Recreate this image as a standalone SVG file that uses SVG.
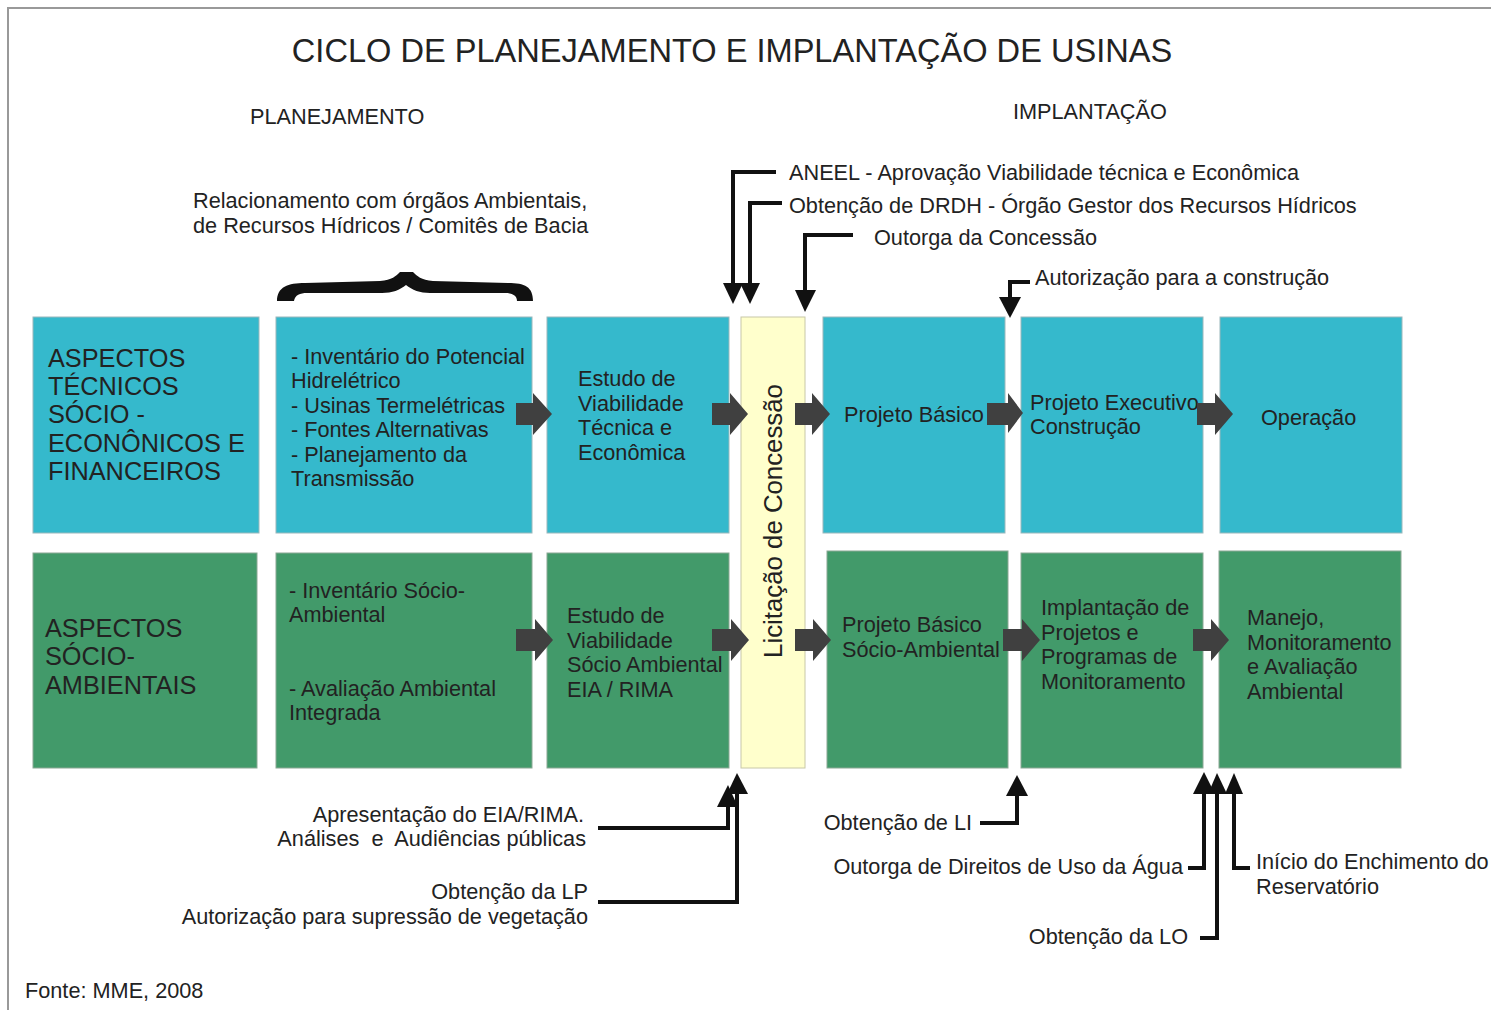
<svg xmlns="http://www.w3.org/2000/svg" width="1491" height="1010" viewBox="0 0 1491 1010">
<defs>
<style>
text{font-family:"Liberation Sans",Arial,sans-serif;fill:#222}
.t20{font-size:21.7px}
.t25{font-size:25.3px}
.cy{fill:#35b9cc;stroke:#9ab8bc;stroke-width:1}
.gr{fill:#429a6a;stroke:#8aa894;stroke-width:1}
.ln{fill:none;stroke:#111;stroke-width:4}
.ah{fill:#111}
.ba{fill:#404040}
.r{text-anchor:end}
</style>
</defs>
<rect width="1491" height="1010" fill="#fff"/>
<path d="M8,1010 V8 H1491" fill="none" stroke="#999" stroke-width="2"/>

<text x="732" y="62" text-anchor="middle" style="font-size:32.6px">CICLO DE PLANEJAMENTO E IMPLANTAÇÃO DE USINAS</text>
<text x="250" y="124" class="t20">PLANEJAMENTO</text>
<text x="1013" y="119" class="t20">IMPLANTAÇÃO</text>
<text x="193" y="208" class="t20">Relacionamento com órgãos Ambientais,</text>
<text x="193" y="233" class="t20">de Recursos Hídricos / Comitês de Bacia</text>
<path d="M277,301 C277,287 288,283 305,283 L380,281 C392,280 396,276 400,272 L413,272 C417,276 421,280 433,281 L508,283 C525,283 533,287 533,301 L517,301 C517,295 512,293 505,293 L430,293 C420,293 412,290 406,285 C400,290 392,293 382,293 L307,293 C300,293 295,295 294,301 Z" fill="#111"/>

<g id="n-tec">
<rect class="cy" x="33" y="317" width="226" height="216"/>
<text class="t25" x="48"><tspan x="48" y="367">ASPECTOS</tspan><tspan x="48" y="395">TÉCNICOS</tspan><tspan x="48" y="423">SÓCIO -</tspan><tspan x="48" y="452">ECONÔNICOS E</tspan><tspan x="48" y="480">FINANCEIROS</tspan></text>
</g>
<g id="n-inv">
<rect class="cy" x="276" y="317" width="256" height="216"/>
<text class="t20"><tspan x="291" y="364">- Inventário do Potencial</tspan><tspan x="291" y="388">Hidrelétrico</tspan><tspan x="291" y="413">- Usinas Termelétricas</tspan><tspan x="291" y="437">- Fontes Alternativas</tspan><tspan x="291" y="462">- Planejamento da</tspan><tspan x="291" y="486">Transmissão</tspan></text>
</g>
<g id="n-evte">
<rect class="cy" x="547" y="317" width="182" height="216"/>
<text class="t20"><tspan x="578" y="386">Estudo de</tspan><tspan x="578" y="411">Viabilidade</tspan><tspan x="578" y="435">Técnica e</tspan><tspan x="578" y="460">Econômica</tspan></text>
</g>
<g id="n-lic">
<rect x="741" y="317" width="64" height="451" fill="#ffffcc" stroke="#c8c8a8" stroke-width="1"/>
<text x="0" y="0" transform="translate(782,521) rotate(-90)" text-anchor="middle" style="font-size:25.8px">Licitação de Concessão</text>
</g>
<g id="n-pb">
<rect class="cy" x="823" y="317" width="182" height="216"/>
<text class="t20" x="844" y="422">Projeto Básico</text>
</g>
<g id="n-pe">
<rect class="cy" x="1021" y="317" width="182" height="216"/>
<text class="t20"><tspan x="1030" y="410">Projeto Executivo</tspan><tspan x="1030" y="434">Construção</tspan></text>
</g>
<g id="n-op">
<rect class="cy" x="1220" y="317" width="182" height="216"/>
<text class="t20" x="1261" y="425">Operação</text>
</g>

<g id="n-soc">
<rect class="gr" x="33" y="553" width="224" height="215"/>
<text class="t25"><tspan x="45" y="637">ASPECTOS</tspan><tspan x="45" y="665">SÓCIO-</tspan><tspan x="45" y="694">AMBIENTAIS</tspan></text>
</g>
<g id="n-invsa">
<rect class="gr" x="276" y="553" width="256" height="215"/>
<text class="t20"><tspan x="289" y="598">- Inventário Sócio-</tspan><tspan x="289" y="622">Ambiental</tspan><tspan x="289" y="696">- Avaliação Ambiental</tspan><tspan x="289" y="720">Integrada</tspan></text>
</g>
<g id="n-evsa">
<rect class="gr" x="547" y="553" width="182" height="215"/>
<text class="t20"><tspan x="567" y="623">Estudo de</tspan><tspan x="567" y="648">Viabilidade</tspan><tspan x="567" y="672">Sócio Ambiental</tspan><tspan x="567" y="697">EIA / RIMA</tspan></text>
</g>
<g id="n-pbsa">
<rect class="gr" x="827" y="551" width="181" height="217"/>
<text class="t20"><tspan x="842" y="632">Projeto Básico</tspan><tspan x="842" y="657">Sócio-Ambiental</tspan></text>
</g>
<g id="n-impl">
<rect class="gr" x="1021" y="553" width="182" height="215"/>
<text class="t20"><tspan x="1041" y="615">Implantação de</tspan><tspan x="1041" y="640">Projetos e</tspan><tspan x="1041" y="664">Programas de</tspan><tspan x="1041" y="689">Monitoramento</tspan></text>
</g>
<g id="n-man">
<rect class="gr" x="1219" y="551" width="182" height="217"/>
<text class="t20"><tspan x="1247" y="625">Manejo,</tspan><tspan x="1247" y="650">Monitoramento</tspan><tspan x="1247" y="674">e Avaliação</tspan><tspan x="1247" y="699">Ambiental</tspan></text>
</g>

<g id="connectors">
<path class="ba" d="M516,403 H533 V393 L552,414 L533,435 V425 H516 Z"/>
<path class="ba" d="M712,403 H730 V393 L748,414 L730,435 V425 H712 Z"/>
<path class="ba" d="M795,403 H812 V393 L830,414 L812,435 V425 H795 Z"/>
<path class="ba" d="M987,403 H1008 V393 L1023,413 L1008,433 V425 H987 Z"/>
<path class="ba" d="M1197,403 H1215 V393 L1233,414 L1215,435 V425 H1197 Z"/>
<path class="ba" d="M516,629 H535 V619 L553,640 L535,661 V651 H516 Z"/>
<path class="ba" d="M712,629 H731 V619 L749,640 L731,661 V651 H712 Z"/>
<path class="ba" d="M795,629 H813 V619 L831,640 L813,661 V651 H795 Z"/>
<path class="ba" d="M1003,629 H1022 V619 L1040,640 L1022,661 V651 H1003 Z"/>
<path class="ba" d="M1193,629 H1211 V619 L1229,640 L1211,661 V651 H1193 Z"/>

<path class="ln" d="M776,172 H733 V284"/>
<path class="ah" d="M723,283 H743 L733,304 Z"/>
<path class="ln" d="M782,203 H750 V284"/>
<path class="ah" d="M740,283 H760 L750,304 Z"/>
<path class="ln" d="M853,235 H805 V291"/>
<path class="ah" d="M795,290 H816 L805,312 Z"/>
<path class="ln" d="M1030,282 H1010 V298"/>
<path class="ah" d="M999,297 H1021 L1010,318 Z"/>

<path class="ln" d="M598,828 H728 V805"/>
<path class="ah" d="M717,807 H738 L728,785 Z"/>
<path class="ln" d="M598,902 H737 V792"/>
<path class="ah" d="M727,794 H748 L737,773 Z"/>
<path class="ln" d="M980,823 H1017 V794"/>
<path class="ah" d="M1006,796 H1028 L1017,775 Z"/>
<path class="ln" d="M1188,868 H1204 V792"/>
<path class="ah" d="M1193,794 H1215 L1204,772 Z"/>
<path class="ln" d="M1200,938 H1217 V792"/>
<path class="ah" d="M1208,794 H1227 L1217,773 Z"/>
<path class="ln" d="M1250,868 H1234 V792"/>
<path class="ah" d="M1225,794 H1243 L1234,773 Z"/>
</g>

<text class="t20" x="789" y="180">ANEEL - Aprovação Viabilidade técnica e Econômica</text>
<text class="t20" x="789" y="213">Obtenção de DRDH - Órgão Gestor dos Recursos Hídricos</text>
<text class="t20" x="874" y="245">Outorga da Concessão</text>
<text class="t20" x="1035" y="285">Autorização para a construção</text>

<text class="t20 r" x="584" y="822">Apresentação do EIA/RIMA.</text>
<text class="t20 r" x="586" y="846" xml:space="preserve">Análises  e  Audiências públicas</text>
<text class="t20 r" x="588" y="899">Obtenção da LP</text>
<text class="t20 r" x="588" y="924">Autorização para supressão de vegetação</text>
<text class="t20 r" x="972" y="830">Obtenção de LI</text>
<text class="t20 r" x="1183" y="874">Outorga de Direitos de Uso da Água</text>
<text class="t20 r" x="1188" y="944">Obtenção da LO</text>
<text class="t20"><tspan x="1256" y="869">Início do Enchimento do</tspan><tspan x="1256" y="894">Reservatório</tspan></text>
<text class="t20" x="25" y="998">Fonte: MME, 2008</text>
</svg>
